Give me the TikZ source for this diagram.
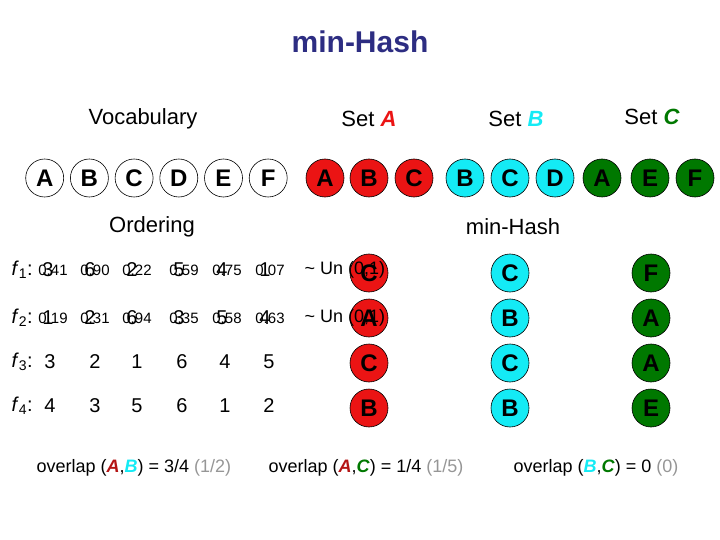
\documentclass[tikz,border=0pt]{standalone}
\usepackage{fontspec}
\setmainfont{Liberation Sans}
\usetikzlibrary{positioning}
\definecolor{setred}{RGB}{235,20,20}
\definecolor{darkred}{RGB}{180,20,20}
\definecolor{setcyan}{RGB}{20,235,245}
\definecolor{setgreen}{RGB}{0,120,0}
\definecolor{titleblue}{RGB}{45,45,130}
\definecolor{paren}{RGB}{150,150,150}
\newcommand{\fsz}[1]{\fontsize{#1}{#1}\selectfont}
\newcommand{\setl}[2]{\textcolor{#1}{\textbf{\textit{#2}}}}

\begin{document}
\begin{tikzpicture}[
  x=1pt, y=-1pt,
  ball/.style={circle, draw=black, line width=0.6pt, minimum size=38pt, inner sep=0pt, font=\fsz{24}\bfseries},
  voc/.style={ball, fill=white},
  seta/.style={ball, fill=setred},
  setb/.style={ball, fill=setcyan},
  setc/.style={ball, fill=setgreen},
  hdr/.style={font=\fsz{22}},
  dec/.style={font=\fsz{15}},
  rank/.style={font=\fsz{20}},
  fname/.style={font=\fsz{20}, anchor=west},
  ovl/.style={font=\fsz{18}, anchor=west}
]
\useasboundingbox (0,0) rectangle (720,540);
% title
\node[font=\fsz{30}\bfseries, text=titleblue] (title) at (360,42) {min-Hash};
% headers
\node[hdr] (hvoc) at (143,119) {Vocabulary};
\node[hdr] (hA) at (369,119) {Set \setl{setred}{A}};
\node[hdr] (hB) at (516,119) {Set \setl{setcyan}{B}};
\node[hdr] (hC) at (652,117) {Set \setl{setgreen}{C}};
% vocabulary and the three sets
\foreach \l [count=\i] in {A,B,C,D,E,F} \node[voc] (v\l) at ({44.7*\i},178) {\l};
\foreach \l/\x in {A/325,B/369,C/414} \node[seta] (a\l) at (\x,178) {\l};
\foreach \l/\x in {B/465,C/510,D/555} \node[setb] (b\l) at (\x,178) {\l};
\foreach \l/\x in {A/602,E/650,F/695} \node[setc] (c\l) at (\x,178) {\l};
\node[hdr] (hord) at (152,227) {Ordering};
\node[hdr] (hmin) at (513,227) {min-Hash};
% hash functions
\node[fname] (f1) at (8,270) {\textit{f}\textsubscript{1}:};
\node[fname] (f2) at (8,318) {\textit{f}\textsubscript{2}:};
\node[fname] (f3) at (8,362) {\textit{f}\textsubscript{3}:};
\node[fname] (f4) at (8,406) {\textit{f}\textsubscript{4}:};
\foreach \d/\r/\x [count=\i] in {0.41/3/51,0.90/6/93,0.22/2/135,0.59/5/182,0.75/4/225,0.07/1/268} {
  \node[dec] (d1\i) at (\x+2,270) {\d};
  \node[rank] (r1\i) at (\x-3,270) {\r};
}
\foreach \d/\r/\x [count=\i] in {0.19/1/51,0.31/2/93,0.94/6/135,0.35/3/182,0.58/5/225,0.63/4/268} {
  \node[dec] (d2\i) at (\x+2,318) {\d};
  \node[rank] (r2\i) at (\x-3,318) {\r};
}
\foreach \r/\x [count=\i] in {3/50,2/95,1/137,6/182,4/225,5/269} \node[rank] (r3\i) at (\x,362) {\r};
\foreach \r/\x [count=\i] in {4/50,3/95,5/137,6/182,1/225,2/269} \node[rank] (r4\i) at (\x,406) {\r};
% min-hash values
\foreach \a/\b/\c/\y [count=\i] in {C/C/F/273,A/B/A/318,C/C/A/363,B/B/E/408} {
  \node[seta] (ma\i) at (369,\y) {\a};
  \node[setb] (mb\i) at (510,\y) {\b};
  \node[setc] (mc\i) at (651,\y) {\c};
}
\node[font=\fsz{18}, anchor=west] (un1) at (301,270) {\textasciitilde\ Un (0,1)};
\node[font=\fsz{18}, anchor=west] (un2) at (301,318) {\textasciitilde\ Un (0,1)};
% overlaps
\node[ovl] (oAB) at (33,468) {overlap (\setl{darkred}{A},\setl{setcyan}{B}) = 3/4 \textcolor{paren}{(1/2)}};
\node[ovl] (oAC) at (265,468) {overlap (\setl{darkred}{A},\setl{setgreen}{C}) = 1/4 \textcolor{paren}{(1/5)}};
\node[ovl] (oBC) at (510,468) {overlap (\setl{setcyan}{B},\setl{setgreen}{C}) = 0 \textcolor{paren}{(0)}};
\end{tikzpicture}
\end{document}
